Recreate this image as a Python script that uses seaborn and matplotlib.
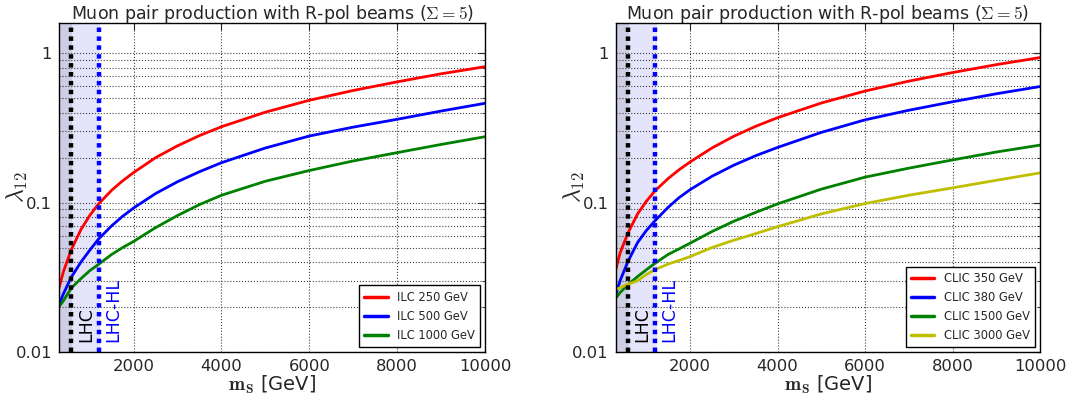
import matplotlib
matplotlib.use("Agg")
import matplotlib.pyplot as plt
import matplotlib.ticker as mticker
import matplotlib.transforms as mtrans
import seaborn as sns
import pandas as pd

# ---------------- data ----------------
mass_gev = [300, 400, 580, 800, 1000, 1200, 1500, 1750, 2000, 2500, 3000, 3500,
            4000, 5000, 6000, 7000, 8000, 9000, 10000]

ilc_250 = [0.0268, 0.0345, 0.0484, 0.066, 0.082, 0.098, 0.121, 0.140, 0.159, 0.200, 0.240, 0.281,
           0.322, 0.403, 0.484, 0.563, 0.643, 0.728, 0.812]
ilc_500 = [0.0207, 0.0245, 0.0317, 0.040, 0.048, 0.057, 0.070, 0.081, 0.0921, 0.115, 0.138, 0.161,
           0.185, 0.232, 0.279, 0.320, 0.361, 0.410, 0.462]
ilc_1000 = [0.0201, 0.0220, 0.0268, 0.031, 0.035, 0.0386, 0.045, 0.050, 0.055, 0.068, 0.082, 0.097,
            0.112, 0.139, 0.164, 0.190, 0.216, 0.245, 0.276]

clic_350 = [0.0355, 0.046, 0.0626, 0.084, 0.102, 0.120, 0.145, 0.166, 0.187, 0.232, 0.278, 0.324,
            0.370, 0.464, 0.558, 0.650, 0.742, 0.838, 0.935]
clic_380 = [0.0241, 0.030, 0.0404, 0.054, 0.065, 0.0757, 0.093, 0.108, 0.122, 0.150, 0.178, 0.206,
            0.234, 0.295, 0.358, 0.415, 0.473, 0.535, 0.598]
clic_1500 = [0.0229, 0.0250, 0.0282, 0.032, 0.0355, 0.0393, 0.045, 0.049, 0.0535, 0.064, 0.075, 0.086,
             0.098, 0.123, 0.148, 0.170, 0.193, 0.218, 0.2425]
clic_3000 = [0.0261, 0.027, 0.0284, 0.030, 0.033, 0.0356, 0.0388, 0.041, 0.0435, 0.050, 0.056, 0.062,
             0.069, 0.084, 0.0985, 0.112, 0.1255, 0.141, 0.158]

ilc_labels = ["ILC 250 GeV", "ILC 500 GeV", "ILC 1000 GeV"]
clic_labels = ["CLIC 350 GeV", "CLIC 380 GeV", "CLIC 1500 GeV", "CLIC 3000 GeV"]

lhc_limit = 580
lhc_hl_limit = 1200
x_range = (300, 10000)
y_range = (0.01, 1.6)
y_ticks = [0.01, 0.1, 1]
y_ticklabels = ["0.01", "0.1", "1"]
x_ticks = [2000, 4000, 6000, 8000, 10000]

title = r"Muon pair production with R-pol beams ($\Sigma = 5$)"

# ---------------- style ----------------
sns.set_theme(style="white")
plt.rcParams["font.family"] = ["DejaVu Sans"]
plt.rcParams["mathtext.fontset"] = "cm"
plt.rcParams["xtick.direction"] = "in"
plt.rcParams["ytick.direction"] = "in"

fig = plt.figure(figsize=(10.77, 3.96), dpi=100)
W, H = 1077, 396
ax1 = fig.add_axes([59 / W, 1 - 352 / H, 426 / W, 329.3 / H])
ax2 = fig.add_axes([615.7 / W, 1 - 352 / H, 424.3 / W, 329.3 / H])

colors_ilc = ["#ff0000", "#0000ff", "#008000"]
colors_clic = ["#ff0000", "#0000ff", "#008000", "#bfbf00"]


def make_df(series, labels):
    frames = []
    for vals, lab in zip(series, labels):
        frames.append(pd.DataFrame({"m": mass_gev, "lam": vals, "coll": lab}))
    return pd.concat(frames, ignore_index=True)


def draw(ax, series, labels, colors):
    ax.axvspan(x_range[0], lhc_hl_limit + 40, color="#e4e4fa", lw=0, zorder=0)
    ax.axvspan(x_range[0], lhc_limit + 20, color="#cdcde4", lw=0, zorder=0)
    df = make_df(series, labels)
    sns.lineplot(data=df, x="m", y="lam", hue="coll", palette=colors,
                 hue_order=labels, lw=2.0, ax=ax, legend=False, zorder=3,
                 estimator=None, sort=False)
    ax.axvline(lhc_limit, color="black", lw=3.2, ls=(0, (1, 1)), zorder=4)
    ax.axvline(lhc_hl_limit, color="#0000ff", lw=3.2, ls=(0, (1, 1)), zorder=4)
    blend = mtrans.blended_transform_factory(ax.transData, ax.transAxes)
    ax.annotate("LHC", xy=(lhc_limit, 0.03), xycoords=blend,
                xytext=(4, 0), textcoords="offset points",
                rotation=90, ha="left", va="bottom", fontsize=12.5, color="black")
    ax.annotate("LHC-HL", xy=(lhc_hl_limit, 0.03), xycoords=blend,
                xytext=(4, 0), textcoords="offset points",
                rotation=90, ha="left", va="bottom", fontsize=12.5, color="#0000ff")

    ax.set_yscale("log")
    ax.set_xlim(*x_range)
    ax.set_ylim(*y_range)
    ax.set_xticks(x_ticks)
    ax.set_xticklabels([str(t) for t in x_ticks])
    ax.set_yticks(y_ticks)
    ax.set_yticklabels(y_ticklabels)
    ax.yaxis.set_minor_locator(mticker.LogLocator(base=10, subs=range(2, 10)))
    ax.yaxis.set_minor_formatter(mticker.NullFormatter())
    ax.tick_params(axis="both", which="major", labelsize=11.8, length=5,
                   width=0.8, direction="in", top=True, right=True, pad=5)
    ax.tick_params(axis="y", which="minor", length=2.5, width=0.6,
                   direction="in", right=True)
    ax.grid(True, which="major", axis="both", color="0.25", ls=":", lw=0.8)
    ax.grid(True, which="minor", axis="y", color="0.25", ls=":", lw=0.8)
    ax.set_axisbelow(False)
    for s in ax.spines.values():
        s.set_color("black")
        s.set_linewidth(1.0)
        s.set_zorder(6)

    ax.set_xlabel(r"$\mathbf{m_S}$ [GeV]", fontsize=14, labelpad=0)
    ax.set_ylabel(r"$\lambda_{12}$", fontsize=17)
    ax.yaxis.set_label_coords(-0.068, 0.5)
    ax.set_title(title, fontsize=12.5, pad=3)

    handles = [plt.Line2D([], [], color=c, lw=2.5) for c in colors]
    leg = ax.legend(handles, labels, loc="lower right", fontsize=8.3,
                    frameon=True, fancybox=False, handlelength=2.0,
                    borderaxespad=0.4, labelspacing=0.5, borderpad=0.5)
    leg.get_frame().set_edgecolor("black")
    leg.get_frame().set_linewidth(1.0)
    leg.get_frame().set_alpha(1.0)
    leg.set_zorder(10)


draw(ax1, [ilc_250, ilc_500, ilc_1000], ilc_labels, colors_ilc)
draw(ax2, [clic_350, clic_380, clic_1500, clic_3000], clic_labels, colors_clic)

fig.savefig("out.png", dpi=100)
